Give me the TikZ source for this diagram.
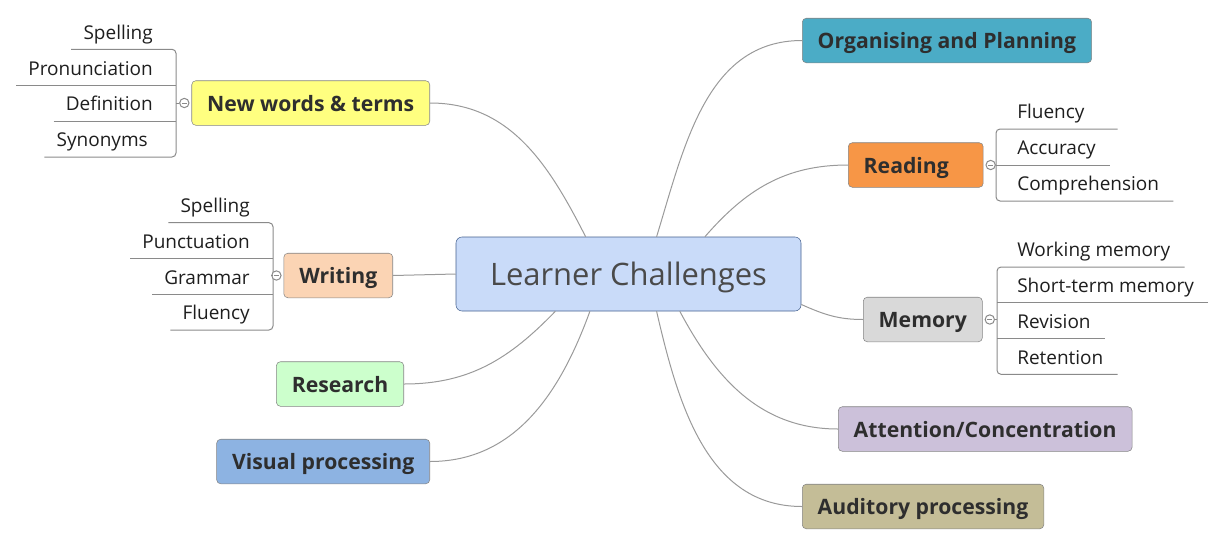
\documentclass[tikz,border=0pt]{standalone}
\usepackage{fontspec}
\setmainfont{Open Sans}
\usepackage{xcolor}
\definecolor{lcCore}{HTML}{C9DBF9}
\definecolor{lcCoreD}{HTML}{45618F}
\definecolor{lcInk}{HTML}{4A4A4A}
\definecolor{lcText}{HTML}{2E2E2E}
\definecolor{lcLeaf}{HTML}{1E1E1E}
\definecolor{lcEdge}{HTML}{858585}
\definecolor{lcLine}{HTML}{9A9A9A}
\definecolor{lcTwig}{HTML}{8A8A8A}
\definecolor{lcYellow}{HTML}{FFFF80}
\definecolor{lcPeach}{HTML}{FBD4B4}
\definecolor{lcMint}{HTML}{CCFFCC}
\definecolor{lcSky}{HTML}{8DB3E2}
\definecolor{lcTeal}{HTML}{4BACC6}
\definecolor{lcOrange}{HTML}{F79646}
\definecolor{lcSilver}{HTML}{D9D9D9}
\definecolor{lcLilac}{HTML}{CCC1DA}
\definecolor{lcKhaki}{HTML}{C4BD97}
\usepackage{tikz}
\usetikzlibrary{positioning}

\begin{document}
\begin{tikzpicture}[x=0.75pt,y=-0.75pt,
  core/.style={rounded corners=4.5pt,fill=lcCore,draw=lcCoreD,text=lcInk,font=\fontsize{23.2}{26}\selectfont,text depth=0pt,minimum width=258.75pt,minimum height=55.5pt},
  tp/.style={rounded corners=3pt,draw=lcEdge,text=lcText,font=\fontsize{15.9}{19}\selectfont\bfseries,text depth=0pt,inner xsep=11.6pt,minimum height=33.4pt},
  lf/.style={inner ysep=7.5pt,text depth=0pt,text=lcLeaf,font=\fontsize{14.25}{17}\selectfont},
  lfr/.style={lf,anchor=south west,inner xsep=10.5pt},
  lfl/.style={lf,anchor=south east,inner xsep=9pt},
  fd/.style={circle,draw=lcTwig,line width=0.75pt,fill=white,inner sep=0pt,minimum size=7pt,
    path picture={\draw[lcTwig,line width=0.75pt] ([xshift=1.6pt]path picture bounding box.west) -- ([xshift=-1.6pt]path picture bounding box.east);}},
  a/.style={lcLine,line width=0.75pt},
  tw/.style={lcTwig,line width=0.75pt}]
  \useasboundingbox (0,0) rectangle (1226,546);
  \node[core] (lc) at (628.5,274) {Learner Challenges};
  \node[tp,fill=lcYellow,anchor=east] (nw) at (430,103) {New words \& terms};
  \node[tp,fill=lcPeach,anchor=east] (wr) at (393,275.5) {Writing};
  \node[tp,fill=lcMint,anchor=east] (rs) at (404,384) {Research};
  \node[tp,fill=lcSky,anchor=east] (vp) at (430,461.5) {Visual processing};
  \node[tp,fill=lcTeal,anchor=west] (op) at (802,40.5) {Organising and Planning};
  \node[tp,fill=lcOrange,anchor=west,text width=78pt,align=left] (rd) at (848,165) {Reading};
  \node[tp,fill=lcSilver,anchor=west] (mm) at (863,319.5) {Memory};
  \node[tp,fill=lcLilac,anchor=west] (ac) at (838,429) {Attention/Concentration};
  \node[tp,fill=lcKhaki,anchor=west] (ap) at (802,506.5) {Auditory processing};

  \draw[a] (lc.139.6) to[out=117,in=0] (nw.east);
  \draw[a] (wr.east) -- (lc.west);
  \draw[a] (lc.-153.9) to[out=-134,in=0] (rs.east);
  \draw[a] (lc.-136.9) to[out=-110,in=0] (vp.east);
  \draw[a] (lc.53.4) to[out=73,in=180] (op.west);
  \draw[a] (lc.26.4) to[out=49,in=180] (rd.west);
  \draw[a] (lc.-10.7) to[out=-24,in=180] (mm.west);
  \draw[a] (lc.-36.8) to[out=-62,in=180] (ac.west);
  \draw[a] (lc.-53.4) to[out=-77,in=180] (ap.west);

  \coordinate (nwk) at (176,103);
  \coordinate (wrk) at (273,275.5);
  \coordinate (rdk) at (996,165);
  \coordinate (mmk) at (997,319.5);

  \node[lfl] (nw1) at (165,49.3) {Spelling};
  \node[lfl] (nw2) at (165,85.3) {Pronunciation};
  \node[lfl] (nw3) at (165,121) {Definition};
  \node[lfl] (nw4) at (160,157) {Synonyms};
  \node[lfl] (wr1) at (262,222.7) {Spelling};
  \node[lfl] (wr2) at (262,258.7) {Punctuation};
  \node[lfl] (wr3) at (262,294.3) {Grammar};
  \node[lfl] (wr4) at (262,330) {Fluency};
  \node[lfr,text width=64.5pt,align=left] (rd1) at (1003,129) {Fluency};
  \node[lfr] (rd2) at (1003,165) {Accuracy};
  \node[lfr] (rd3) at (1003,201) {Comprehension};
  \node[lfr] (mm1) at (1003,267) {Working memory};
  \node[lfr] (mm2) at (1003,302.3) {Short-term memory};
  \node[lfr] (mm3) at (1003,338.3) {Revision};
  \node[lfr] (mm4) at (1003,374.3) {Retention};

  \draw[tw,rounded corners=3pt] (nw1.south west) -- (nw1.south west -| nwk) -- (nw4.south west -| nwk) -- (nw4.south west);
  \draw[tw] (nw2.south west) -- (nw2.south west -| nwk);
  \draw[tw] (nw3.south west) -- (nw3.south west -| nwk);
  \draw[tw,rounded corners=3pt] (wr1.south west) -- (wr1.south west -| wrk) -- (wr4.south west -| wrk) -- (wr4.south west);
  \draw[tw] (wr2.south west) -- (wr2.south west -| wrk);
  \draw[tw] (wr3.south west) -- (wr3.south west -| wrk);
  \draw[tw,rounded corners=3pt] (rd1.south east) -- (rd1.south east -| rdk) -- (rd3.south east -| rdk) -- (rd3.south east);
  \draw[tw] (rd2.south east) -- (rd2.south east -| rdk);
  \draw[tw,rounded corners=3pt] (mm1.south east) -- (mm1.south east -| mmk) -- (mm4.south east -| mmk) -- (mm4.south east);
  \draw[tw] (mm2.south east) -- (mm2.south east -| mmk);
  \draw[tw] (mm3.south east) -- (mm3.south east -| mmk);

  \node[fd,left=1.5pt of nw] (nwf) {};
  \node[fd,left=1.5pt of wr] (wrf) {};
  \node[fd,right=1.5pt of rd] (rdf) {};
  \node[fd,right=1.5pt of mm] (mmf) {};
  \draw[tw] (nwf) -- (nwk);
  \draw[tw] (wrf) -- (wrk);
  \draw[tw] (rdf) -- (rdk);
  \draw[tw] (mmf) -- (mmk);
\end{tikzpicture}
\end{document}
